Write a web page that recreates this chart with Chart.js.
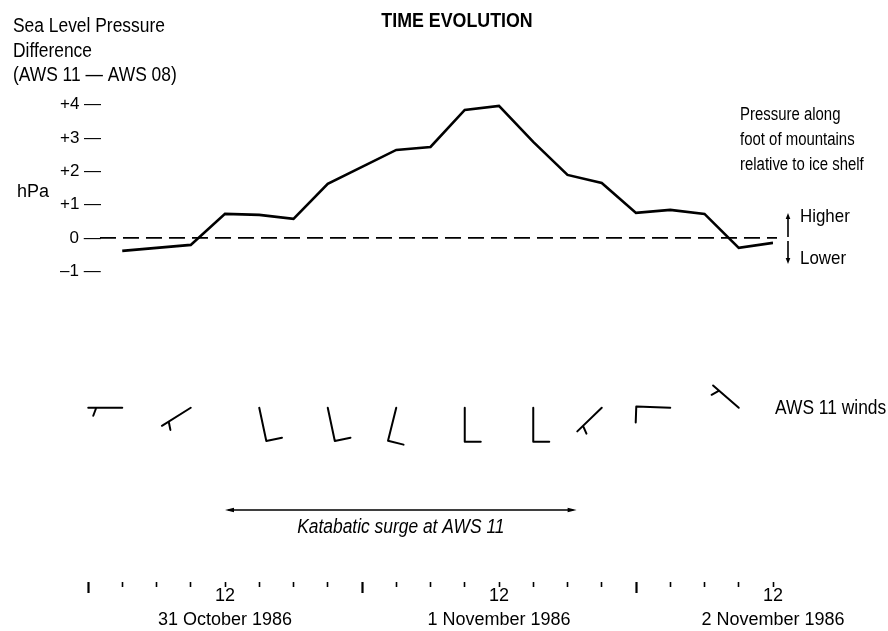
<!DOCTYPE html>
<html>
<head>
<meta charset="utf-8">
<script src="https://cdn.jsdelivr.net/npm/chart.js@4"></script>
<style>
  body { margin: 0; background: #fff; }
  canvas { display: block; }
</style>
</head>
<body>
<canvas id="c" width="888" height="631"></canvas>
<script>
// hours after 00 UTC 31 October 1986
var dataHours = [3, 9, 12, 15, 18, 21, 24, 27, 30, 33, 36, 39, 42, 45, 48, 51, 54, 57, 60];
var pressureDiff = [-0.39, -0.21, 0.72, 0.69, 0.57, 1.62, 2.13, 2.64, 2.73, 3.84, 3.96, 2.88, 1.89, 1.65, 0.75, 0.84, 0.72, -0.30, -0.15];

var zeroLineHours = [1.05, 60.35];

var yTickValues = [4, 3, 2, 1, 0, -1];
// figure space in front of 0 keeps the digits lined up
var yTickLabels = ['+4 \u2014', '+3 \u2014', '+2 \u2014', '+1 \u2014', '\u20070 \u2014', '\u20131 \u2014'];

var dayLabelHours = [12, 36, 60];
var dayLabels = ['31 October 1986', '1 November 1986', '2 November 1986'];
var majorTickHours = [0, 24, 48];

// AWS 11 winds: direction wind blows from (deg), speed (kt)
var windHours = [3, 9, 15, 21, 27, 33, 39, 45, 51, 57];
var windDirDeg = [270, 238, 168, 168, 194, 180, 180, 226, 272, 311];
var windSpeedKt = [5, 5, 10, 10, 10, 10, 10, 5, 10, 5];
var windRowLevel = -5.1;

var surgeHours = [12, 42.8];
var surgeLevel = -8.17;

var FONT = "'Liberation Sans Narrow', 'Liberation Sans', Arial, sans-serif";

// the figure uses a condensed face; squeeze the regular one horizontally
function narrowText(ctx, text, x, y, align, sx) {
  ctx.save();
  ctx.translate(x, y);
  ctx.scale(sx, 1);
  ctx.textAlign = align;
  ctx.fillText(text, 0, 0);
  ctx.restore();
}

function drawWindBarb(ctx, x, y, dir, kt) {
  var L = 34;
  var a = dir * Math.PI / 180;
  var ux = Math.sin(a), uy = -Math.cos(a);
  var lx = uy, ly = -ux; // left of staff (southern hemisphere)
  var ex = x + L * ux, ey = y + L * uy;
  ctx.beginPath();
  ctx.moveTo(x, y);
  ctx.lineTo(ex, ey);
  var full = Math.floor(kt / 10), half = (kt % 10) >= 5;
  var d = L;
  for (var i = 0; i < full; i++) {
    var px = x + d * ux, py = y + d * uy;
    ctx.moveTo(px, py);
    ctx.lineTo(px + 16 * lx, py + 16 * ly);
    d -= 6;
  }
  if (half) {
    if (full === 0) d = L - 8;
    var hx = x + d * ux, hy = y + d * uy;
    ctx.moveTo(hx, hy);
    ctx.lineTo(hx + 8 * lx + 3 * ux, hy + 8 * ly + 3 * uy);
  }
  ctx.stroke();
}

function arrowHead(ctx, x, y, dx, dy, len, wid) {
  ctx.beginPath();
  ctx.moveTo(x, y);
  ctx.lineTo(x - dx * len - dy * wid, y - dy * len + dx * wid);
  ctx.lineTo(x - dx * len + dy * wid, y - dy * len - dx * wid);
  ctx.closePath();
  ctx.fill();
}

var annotations = {
  id: 'annotations',
  afterDraw: function (chart) {
    var ctx = chart.ctx;
    var xs = chart.scales.x, ys = chart.scales.y;
    ctx.save();
    ctx.fillStyle = '#000';
    ctx.strokeStyle = '#000';
    ctx.textBaseline = 'alphabetic';

    ctx.font = 'bold 20px ' + FONT;
    narrowText(ctx, 'TIME EVOLUTION', 457, 27, 'center', 0.89);

    ctx.font = '20px ' + FONT;
    narrowText(ctx, 'Sea Level Pressure', 13, 32, 'left', 0.87);
    narrowText(ctx, 'Difference', 13, 57, 'left', 0.87);
    narrowText(ctx, '(AWS 11 \u2014 AWS 08)', 13, 81, 'left', 0.87);
    ctx.font = '18px ' + FONT;
    narrowText(ctx, 'hPa', 17, 197, 'left', 1);

    ctx.font = '18px ' + FONT;
    narrowText(ctx, 'Pressure along', 740, 120, 'left', 0.83);
    narrowText(ctx, 'foot of mountains', 740, 145, 'left', 0.83);
    narrowText(ctx, 'relative to ice shelf', 740, 170, 'left', 0.83);

    // higher / lower
    var y0 = ys.getPixelForValue(0);
    ctx.lineWidth = 1.6;
    ctx.beginPath();
    ctx.moveTo(788, y0 - 1); ctx.lineTo(788, y0 - 21);
    ctx.moveTo(788, y0 + 3); ctx.lineTo(788, y0 + 22);
    ctx.stroke();
    arrowHead(ctx, 788, y0 - 25, 0, -1, 6, 2.3);
    arrowHead(ctx, 788, y0 + 26, 0, 1, 6, 2.3);
    ctx.font = '19px ' + FONT;
    narrowText(ctx, 'Higher', 800, y0 - 16, 'left', 0.89);
    narrowText(ctx, 'Lower', 800, y0 + 26, 'left', 0.89);

    // winds
    var yw = ys.getPixelForValue(windRowLevel);
    ctx.lineWidth = 2;
    ctx.lineCap = 'round';
    for (var i = 0; i < windHours.length; i++) {
      drawWindBarb(ctx, xs.getPixelForValue(windHours[i]), yw, windDirDeg[i], windSpeedKt[i]);
    }
    ctx.font = '20px ' + FONT;
    narrowText(ctx, 'AWS 11 winds', 775, yw + 6, 'left', 0.87);

    // katabatic surge arrow
    var ya = ys.getPixelForValue(surgeLevel);
    var xa = xs.getPixelForValue(surgeHours[0]), xb = xs.getPixelForValue(surgeHours[1]);
    ctx.lineWidth = 1.6;
    ctx.beginPath();
    ctx.moveTo(xa + 4, ya); ctx.lineTo(xb - 4, ya);
    ctx.stroke();
    arrowHead(ctx, xa, ya, -1, 0, 9, 2.2);
    arrowHead(ctx, xb, ya, 1, 0, 9, 2.2);
    ctx.font = 'italic 20px ' + FONT;
    narrowText(ctx, 'Katabatic surge at AWS 11', (xa + xb) / 2, ya + 23, 'center', 0.87);
    ctx.restore();
  }
};

var chart = new Chart(document.getElementById('c').getContext('2d'), {
  type: 'line',
  data: {
    datasets: [
      {
        label: 'Sea level pressure difference (AWS 11 - AWS 08)',
        data: dataHours.map(function (h, i) { return { x: h, y: pressureDiff[i] }; }),
        borderColor: '#000',
        borderWidth: 2.6,
        pointRadius: 0,
        tension: 0
      },
      {
        label: 'zero',
        data: zeroLineHours.map(function (h) { return { x: h, y: 0 }; }),
        borderColor: '#000',
        borderWidth: 1.8,
        borderDash: [16, 7],
        pointRadius: 0,
        clip: false
      }
    ]
  },
  options: {
    responsive: false,
    animation: false,
    layout: { padding: { top: 38, right: 115, bottom: 0, left: 0 } },
    plugins: { legend: { display: false }, tooltip: { enabled: false } },
    scales: {
      x: {
        type: 'linear',
        min: 0,
        max: 60,
        afterFit: function (s) { s.height = 49; },
        border: { display: false },
        grid: {
          drawOnChartArea: false,
          drawTicks: true,
          tickLength: 11,
          tickColor: '#000',
          tickWidth: function (c) { return majorTickHours.indexOf(c.tick && c.tick.value) >= 0 ? 2.2 : 1.6; },
          tickBorderDash: function (c) { return majorTickHours.indexOf(c.tick && c.tick.value) >= 0 ? [] : [5, 100]; }
        },
        ticks: {
          stepSize: 3,
          autoSkip: false,
          maxRotation: 0,
          minRotation: 0,
          padding: -9,
          color: '#000',
          font: { family: FONT, size: 18, lineHeight: 1.33 },
          callback: function (v) {
            var k = dayLabelHours.indexOf(v);
            return k >= 0 ? ['12', dayLabels[k]] : '';
          }
        }
      },
      y: {
        min: -10.33,
        max: 6,
        afterFit: function (s) { s.width = 88; },
        afterBuildTicks: function (s) { s.ticks = yTickValues.map(function (v) { return { value: v }; }); },
        border: { display: false },
        grid: { display: false, drawTicks: false },
        ticks: {
          mirror: true,
          padding: -28,
          color: '#000',
          font: { family: FONT, size: 17 },
          callback: function (v) {
            var k = yTickValues.indexOf(v);
            return k >= 0 ? yTickLabels[k] : '';
          }
        }
      }
    }
  },
  plugins: [annotations]
});
</script>
</body>
</html>
